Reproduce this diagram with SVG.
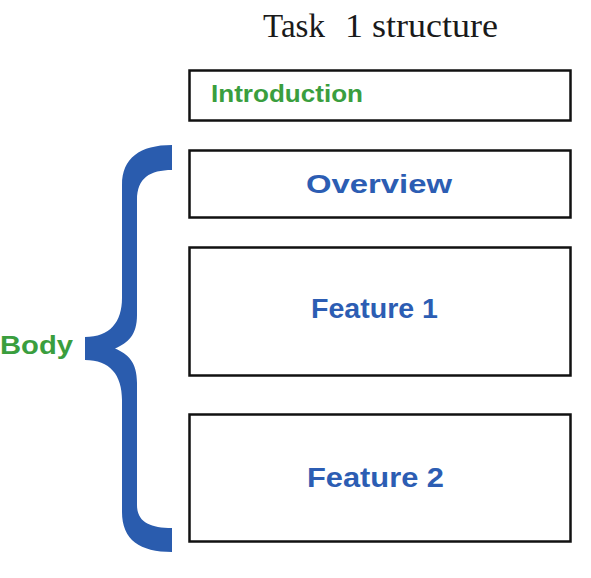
<svg xmlns="http://www.w3.org/2000/svg" width="591" height="578" viewBox="0 0 591 578">
<style>
.box{fill:#fff;stroke:#111;stroke-width:2.5}
.lbl{font-family:"Liberation Sans",Arial,sans-serif;font-weight:bold}
.blue{fill:#2C5DB3}
.green{fill:#3A9E3E}
</style>
<rect width="591" height="578" fill="#fff"/>
<text x="263" y="37" font-family="Liberation Serif,'Times New Roman',serif" font-size="34" fill="#1a1a1a"><tspan textLength="62" lengthAdjust="spacingAndGlyphs">Task</tspan><tspan x="345" textLength="153" lengthAdjust="spacingAndGlyphs">1 structure</tspan></text>
<g id="introduction">
<rect class="box" x="189.5" y="70.5" width="381" height="50"/>
<text class="lbl green" x="211" y="102" font-size="24" textLength="152" lengthAdjust="spacingAndGlyphs">Introduction</text>
</g>
<g id="overview">
<rect class="box" x="189.5" y="150.5" width="381" height="67"/>
<text class="lbl blue" x="306" y="193" font-size="26" textLength="146" lengthAdjust="spacingAndGlyphs">Overview</text>
</g>
<g id="feature1">
<rect class="box" x="189.5" y="247.5" width="381" height="128"/>
<text class="lbl blue" x="311" y="318" font-size="28" textLength="127" lengthAdjust="spacingAndGlyphs">Feature 1</text>
</g>
<g id="feature2">
<rect class="box" x="189.5" y="414.5" width="381" height="127"/>
<text class="lbl blue" x="307" y="487" font-size="28" textLength="137" lengthAdjust="spacingAndGlyphs">Feature 2</text>
</g>
<g id="body">
<path fill="#2A5CAE" d="M172,145 L172,170 C150,170 137,178 137,200 L137,315 C137,335 128,343 115,348.5 C128,354 137,362 137,383 L137,505 C137,522 150,528 172,528 L172,552 C140,552 122,540 122,512 L122,400 C122,375 110,360 85,360 L85,337 C110,337 122,322 122,298 L122,185 C122,158 140,145 172,145 Z"/>
<text class="lbl green" x="0" y="354" font-size="26" textLength="73" lengthAdjust="spacingAndGlyphs">Body</text>
</g>
</svg>
